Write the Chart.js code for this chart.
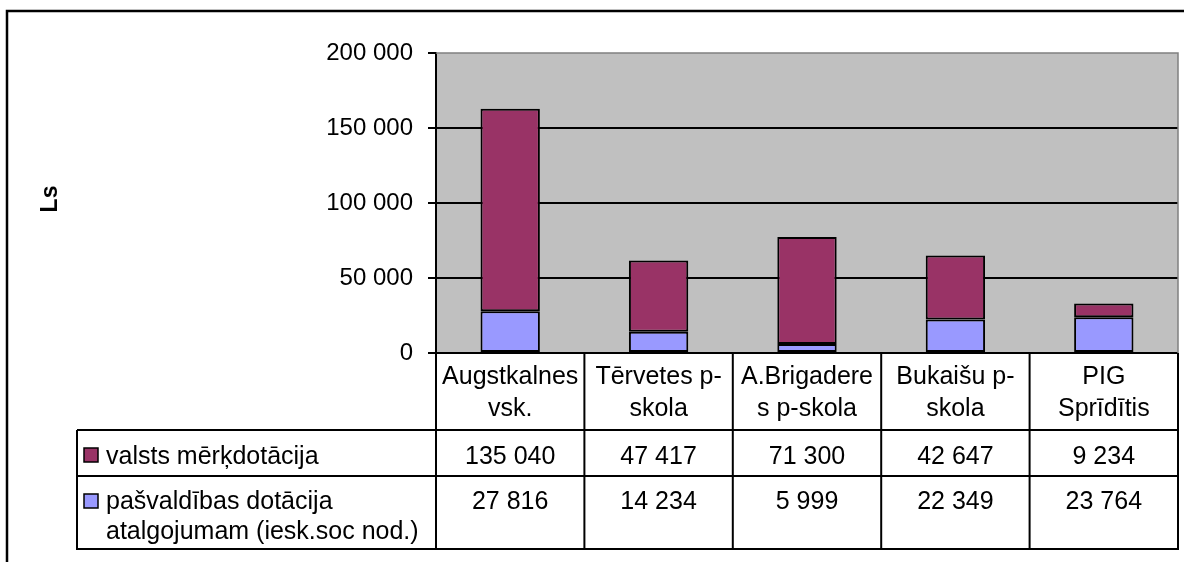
<!DOCTYPE html>
<html>
<head>
<meta charset="utf-8">
<script src="https://cdn.jsdelivr.net/npm/chart.js@4/dist/chart.umd.min.js"></script>
<style>
  html, body { margin: 0; padding: 0; background: #fff; }
  #wrap { width: 1184px; height: 562px; }
</style>
</head>
<body>
<div id="wrap"><canvas id="c" width="1184" height="562"></canvas></div>
<script>
const categories = [
  ["Augstkalnes", "vsk."],
  ["Tērvetes p-", "skola"],
  ["A.Brigadere", "s p-skola"],
  ["Bukaišu p-", "skola"],
  ["PIG", "Sprīdītis"]
];
const seriesNames = ["valsts mērķdotācija", ["pašvaldības dotācija", "atalgojumam (iesk.soc nod.)"]];
const valsts = [135040, 47417, 71300, 42647, 9234];
const pasvaldibas = [27816, 14234, 5999, 22349, 23764];
const yTicks = [0, 50000, 100000, 150000, 200000];
const axisTitle = "Ls";

const COL_VALSTS = "#993366";
const COL_PASV = "#9999FF";
const FONT = "'Liberation Sans', Arial, sans-serif";
const FS = 24;
const TFS = 25;

function fmt(v) {
  return String(v).replace(/\B(?=(\d{3})+(?!\d))/g, " ");
}

const tablePlugin = {
  id: "tablePlugin",
  beforeDraw(chart) {
    const ctx = chart.ctx;
    const a = chart.chartArea;
    ctx.save();
    ctx.fillStyle = "#fff";
    ctx.fillRect(0, 0, chart.width, chart.height);
    ctx.fillStyle = "#C0C0C0";
    ctx.fillRect(a.left, a.top, a.right - a.left, a.bottom - a.top);
    ctx.strokeStyle = "#000";
    ctx.lineWidth = 2.5;
    ctx.beginPath();
    ctx.moveTo(7, 562);
    ctx.lineTo(7, 11);
    ctx.lineTo(1184, 11);
    ctx.stroke();
    ctx.restore();
  },
  afterDraw(chart) {
    const ctx = chart.ctx;
    const a = chart.chartArea;
    const xs = chart.scales.x;
    const n = categories.length;
    const colW = (a.right - a.left) / n;
    ctx.save();
    ctx.strokeStyle = "#808080";
    ctx.lineWidth = 1.5;
    ctx.beginPath();
    ctx.moveTo(a.left, a.top);
    ctx.lineTo(a.right, a.top);
    ctx.lineTo(a.right, a.bottom);
    ctx.stroke();

    const tTop = a.bottom;
    const r1 = 430, r2 = 476, tBot = 549, legL = 77;
    ctx.strokeStyle = "#000";
    ctx.lineWidth = 2;
    ctx.beginPath();
    ctx.moveTo(legL, r1); ctx.lineTo(a.right, r1);
    ctx.moveTo(legL, r2); ctx.lineTo(a.right, r2);
    ctx.moveTo(legL - 1, tBot); ctx.lineTo(a.right + 1, tBot);
    ctx.moveTo(legL, r1); ctx.lineTo(legL, tBot);
    for (let i = 0; i <= n; i++) {
      const x = a.left + i * colW;
      ctx.moveTo(x, tTop); ctx.lineTo(x, tBot);
    }
    ctx.stroke();

    ctx.fillStyle = "#000";
    ctx.font = TFS + "px " + FONT;
    ctx.textAlign = "center";
    ctx.textBaseline = "alphabetic";
    for (let i = 0; i < n; i++) {
      const cx = xs.getPixelForValue(i);
      ctx.fillText(categories[i][0], cx, 384);
      ctx.fillText(categories[i][1], cx, 416);
      ctx.fillText(fmt(valsts[i]), cx, 464);
      ctx.fillText(fmt(pasvaldibas[i]), cx, 509);
    }
    ctx.textAlign = "left";
    ctx.lineWidth = 1.5;
    ctx.fillStyle = COL_VALSTS;
    ctx.fillRect(84, 448, 14, 14);
    ctx.strokeRect(84, 448, 14, 14);
    ctx.fillStyle = COL_PASV;
    ctx.fillRect(84, 494, 14, 14);
    ctx.strokeRect(84, 494, 14, 14);
    ctx.fillStyle = "#000";
    ctx.fillText(seriesNames[0], 106, 464);
    ctx.fillText(seriesNames[1][0], 106, 509);
    ctx.fillText(seriesNames[1][1], 106, 539);

    ctx.translate(51, 199);
    ctx.rotate(-Math.PI / 2);
    ctx.font = "bold 23px " + FONT;
    ctx.textAlign = "center";
    ctx.textBaseline = "middle";
    ctx.fillText(axisTitle, 0, 0);
    ctx.restore();
  }
};

new Chart(document.getElementById("c"), {
  type: "bar",
  data: {
    labels: categories.map(c => c.join(" ")),
    datasets: [
      {
        label: seriesNames[1].join(" "),
        data: pasvaldibas,
        backgroundColor: COL_PASV,
        borderColor: "#000",
        borderWidth: 2,
        borderSkipped: false,
        barPercentage: 0.4,
        categoryPercentage: 1
      },
      {
        label: seriesNames[0],
        data: valsts,
        backgroundColor: COL_VALSTS,
        borderColor: "#000",
        borderWidth: 2,
        borderSkipped: false,
        barPercentage: 0.4,
        categoryPercentage: 1
      }
    ]
  },
  options: {
    responsive: false,
    animation: false,
    devicePixelRatio: 1,
    layout: { padding: { left: 0, top: 53, right: 6, bottom: 209 } },
    plugins: { legend: { display: false }, tooltip: { enabled: false } },
    scales: {
      x: { stacked: true, display: false },
      y: {
        stacked: true,
        min: yTicks[0],
        max: yTicks[yTicks.length - 1],
        afterFit(scale) { scale.width = 436; },
        afterBuildTicks(scale) { scale.ticks = yTicks.map(v => ({ value: v })); },
        border: { display: true, color: "#000", width: 2 },
        grid: {
          color: ctx => (ctx.tick && ctx.tick.value === yTicks[yTicks.length - 1]) ? "rgba(0,0,0,0)" : "#000",
          tickColor: "#000",
          lineWidth: 2,
          tickLength: 8
        },
        ticks: {
          color: "#000",
          padding: 15,
          font: { family: FONT, size: FS },
          callback: v => fmt(v)
        }
      }
    }
  },
  plugins: [tablePlugin]
});
</script>
</body>
</html>
